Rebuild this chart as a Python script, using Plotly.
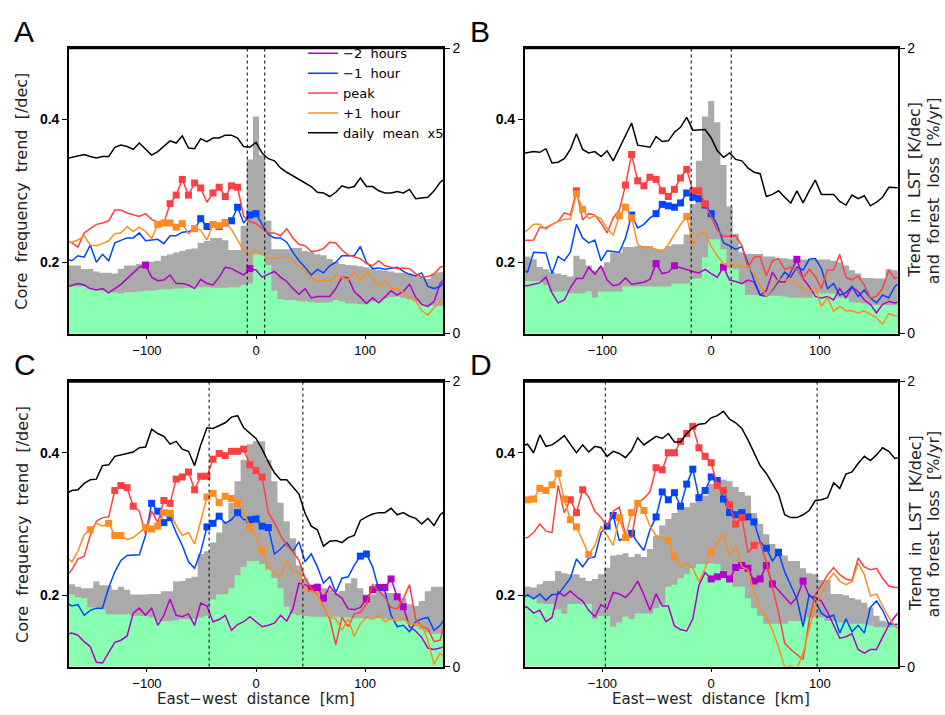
import plotly.graph_objects as go

# ---------------- data ----------------
# east-west distance grid (km), one value per 5.63 km column, k = -31 ... 31
DIST_KM = [-174.5, -168.9, -163.3, -157.6, -152.0, -146.4, -140.8, -135.1, -129.5, -123.9,
           -118.2, -112.6, -107.0, -101.3, -95.7, -90.1, -84.5, -78.8, -73.2, -67.6,
           -61.9, -56.3, -50.7, -45.0, -39.4, -33.8, -28.2, -22.5, -16.9, -11.3,
           -5.6, 0.0, 5.6, 11.3, 16.9, 22.5, 28.2, 33.8, 39.4, 45.0,
           50.7, 56.3, 61.9, 67.6, 73.2, 78.8, 84.5, 90.1, 95.7, 101.3,
           107.0, 112.6, 118.2, 123.9, 129.5, 135.1, 140.8, 146.4, 152.0, 157.6,
           163.3, 168.9, 174.5]

PANELS = ["A", "B", "C", "D"]
SERIES_NAMES = ["\u22122 hours", "\u22121 hour", "peak", "+1 hour", "daily mean x5"]

# ---- panel A ----
minus2_A = [0.165, 0.168, 0.170, 0.168, 0.163, 0.161, 0.163, 0.157, 0.163, 0.169, 0.177, 0.185, 0.193, 0.196, 0.179, 0.174, 0.175, 0.182, 0.170, 0.170, 0.168,
            0.163, 0.176, 0.170, 0.168, 0.179, 0.193, 0.191, 0.187, 0.182, 0.191, 0.189, 0.179, 0.183, 0.187, 0.179, 0.173, 0.163, 0.155, 0.163, 0.150, 0.152,
            0.152, 0.152, 0.163, 0.179, 0.178, 0.159, 0.151, 0.142, 0.150, 0.143, 0.151, 0.160, 0.154, 0.159, 0.169, 0.151, 0.141, 0.138, 0.145, 0.170, 0.180]
minus1_A = [0.205, 0.202, 0.209, 0.207, 0.224, 0.200, 0.211, 0.202, 0.227, 0.231, 0.234, 0.234, 0.241, 0.230, 0.231, 0.232, 0.226, 0.237, 0.237, 0.242, 0.243,
            0.246, 0.261, 0.250, 0.255, 0.250, 0.255, 0.258, 0.277, 0.255, 0.266, 0.268, 0.253, 0.239, 0.234, 0.234, 0.228, 0.214, 0.202, 0.193, 0.182, 0.190,
            0.185, 0.195, 0.200, 0.209, 0.209, 0.209, 0.222, 0.200, 0.191, 0.192, 0.190, 0.191, 0.193, 0.187, 0.183, 0.181, 0.185, 0.166, 0.163, 0.166, 0.175]
peak_A = [0.230, 0.227, 0.221, 0.241, 0.247, 0.253, 0.255, 0.258, 0.273, 0.273, 0.269, 0.267, 0.264, 0.268, 0.260, 0.256, 0.255, 0.282, 0.294, 0.316, 0.294,
          0.311, 0.304, 0.284, 0.297, 0.305, 0.292, 0.307, 0.305, 0.264, 0.257, 0.254, 0.248, 0.241, 0.241, 0.237, 0.247, 0.234, 0.225, 0.223, 0.215, 0.216,
          0.219, 0.228, 0.227, 0.217, 0.210, 0.208, 0.205, 0.198, 0.195, 0.202, 0.195, 0.193, 0.191, 0.192, 0.191, 0.184, 0.179, 0.180, 0.183, 0.193, 0.196]
plus1_A = [0.228, 0.228, 0.231, 0.237, 0.224, 0.223, 0.226, 0.230, 0.240, 0.241, 0.250, 0.243, 0.249, 0.243, 0.233, 0.253, 0.255, 0.255, 0.249, 0.254, 0.240,
           0.247, 0.245, 0.231, 0.253, 0.251, 0.255, 0.246, 0.231, 0.216, 0.213, 0.216, 0.211, 0.205, 0.205, 0.207, 0.207, 0.202, 0.195, 0.189, 0.179, 0.173,
           0.175, 0.173, 0.181, 0.179, 0.175, 0.186, 0.175, 0.186, 0.177, 0.167, 0.174, 0.163, 0.163, 0.157, 0.152, 0.146, 0.132, 0.126, 0.136, 0.145, 0.148]
daily_A = [0.345, 0.347, 0.349, 0.351, 0.348, 0.346, 0.348, 0.348, 0.361, 0.364, 0.362, 0.358, 0.367, 0.359, 0.350, 0.355, 0.362, 0.370, 0.367, 0.377, 0.360,
           0.359, 0.373, 0.369, 0.374, 0.374, 0.378, 0.378, 0.374, 0.362, 0.361, 0.368, 0.353, 0.345, 0.342, 0.332, 0.326, 0.321, 0.316, 0.310, 0.306, 0.298,
           0.297, 0.292, 0.298, 0.307, 0.304, 0.306, 0.318, 0.306, 0.306, 0.300, 0.297, 0.297, 0.299, 0.297, 0.302, 0.289, 0.290, 0.291, 0.300, 0.312, 0.318]
lst_A = [0.48, 0.476, 0.476, 0.453, 0.453, 0.435, 0.426, 0.426, 0.42, 0.453, 0.476, 0.476, 0.487, 0.499, 0.503, 0.51, 0.545, 0.556, 0.567, 0.579, 0.59,
         0.595, 0.636, 0.648, 0.67, 0.67, 0.654, 0.586, 0.586, 0.755, 1.22, 1.52, 1.25, 0.79, 0.59, 0.59, 0.59, 0.60, 0.60, 0.579, 0.572, 0.556,
         0.549, 0.522, 0.503, 0.487, 0.48, 0.476, 0.471, 0.465, 0.453, 0.446, 0.442, 0.435, 0.426, 0.426, 0.42, 0.407, 0.396, 0.384, 0.42, 0.43, 0.43]
loss_A = [0.33, 0.33, 0.33, 0.335, 0.31, 0.305, 0.30, 0.29, 0.285, 0.28, 0.29, 0.29, 0.295, 0.30, 0.30, 0.305, 0.31, 0.31, 0.315, 0.315, 0.32,
          0.325, 0.325, 0.325, 0.32, 0.32, 0.32, 0.325, 0.325, 0.34, 0.35, 0.556, 0.55, 0.48, 0.30, 0.24, 0.235, 0.235, 0.23, 0.225, 0.22, 0.215,
          0.215, 0.22, 0.235, 0.225, 0.21, 0.21, 0.205, 0.205, 0.225, 0.235, 0.245, 0.255, 0.26, 0.25, 0.24, 0.225, 0.21, 0.2, 0.195, 0.195, 0.195]
sig_minus2_A = [-18, -1]
sig_minus1_A = [-9, -8, -6, -5, -4, -3, -1, 0]
sig_peak_A = [-14, -13, -12, -11, -10, -9, -7, -6, -5, -4, -3]
sig_plus1_A = [-16, -15, -14, -13, -12, -10, -7, -6, -5]

# ---- panel B ----
minus2_B = [0.167, 0.167, 0.169, 0.171, 0.179, 0.157, 0.143, 0.147, 0.164, 0.177, 0.177, 0.193, 0.183, 0.195, 0.175, 0.167, 0.169, 0.178, 0.169, 0.170, 0.172,
            0.176, 0.198, 0.184, 0.186, 0.195, 0.192, 0.189, 0.187, 0.185, 0.190, 0.184, 0.179, 0.193, 0.175, 0.173, 0.170, 0.175, 0.172, 0.154, 0.160, 0.186,
            0.173, 0.172, 0.186, 0.204, 0.177, 0.166, 0.152, 0.150, 0.152, 0.147, 0.163, 0.150, 0.165, 0.159, 0.147, 0.141, 0.129, 0.141, 0.145, 0.143, 0.145]
minus1_B = [0.190, 0.186, 0.214, 0.214, 0.213, 0.184, 0.208, 0.202, 0.214, 0.253, 0.234, 0.227, 0.231, 0.202, 0.216, 0.215, 0.214, 0.234, 0.266, 0.248, 0.253,
            0.262, 0.268, 0.281, 0.279, 0.277, 0.283, 0.297, 0.291, 0.289, 0.280, 0.268, 0.252, 0.227, 0.223, 0.218, 0.222, 0.198, 0.175, 0.154, 0.152, 0.161,
            0.173, 0.186, 0.179, 0.193, 0.189, 0.204, 0.205, 0.191, 0.163, 0.170, 0.154, 0.157, 0.166, 0.152, 0.161, 0.150, 0.143, 0.154, 0.150, 0.166, 0.172]
peak_B = [0.230, 0.230, 0.231, 0.249, 0.248, 0.253, 0.257, 0.269, 0.266, 0.300, 0.259, 0.268, 0.266, 0.255, 0.241, 0.262, 0.273, 0.308, 0.351, 0.314, 0.307,
          0.319, 0.316, 0.300, 0.292, 0.302, 0.318, 0.330, 0.300, 0.300, 0.282, 0.262, 0.245, 0.236, 0.236, 0.237, 0.223, 0.193, 0.207, 0.208, 0.181, 0.202,
          0.205, 0.190, 0.193, 0.190, 0.177, 0.190, 0.180, 0.163, 0.189, 0.189, 0.211, 0.179, 0.175, 0.181, 0.168, 0.150, 0.152, 0.163, 0.189, 0.177, 0.180]
plus1_B = [0.240, 0.245, 0.253, 0.253, 0.246, 0.253, 0.257, 0.260, 0.260, 0.296, 0.274, 0.261, 0.265, 0.261, 0.247, 0.238, 0.265, 0.277, 0.262, 0.225, 0.220,
           0.220, 0.218, 0.214, 0.225, 0.239, 0.253, 0.264, 0.225, 0.239, 0.242, 0.222, 0.209, 0.198, 0.195, 0.198, 0.193, 0.195, 0.184, 0.168, 0.152, 0.163,
           0.177, 0.175, 0.175, 0.170, 0.163, 0.159, 0.164, 0.138, 0.150, 0.131, 0.138, 0.132, 0.132, 0.129, 0.132, 0.127, 0.122, 0.113, 0.128, 0.125, 0.125]
daily_B = [0.352, 0.353, 0.355, 0.354, 0.359, 0.339, 0.340, 0.345, 0.358, 0.380, 0.358, 0.353, 0.355, 0.348, 0.356, 0.342, 0.360, 0.378, 0.395, 0.364, 0.362,
           0.361, 0.376, 0.369, 0.370, 0.382, 0.389, 0.403, 0.385, 0.385, 0.386, 0.374, 0.356, 0.347, 0.353, 0.344, 0.342, 0.332, 0.326, 0.324, 0.292, 0.295,
           0.300, 0.291, 0.283, 0.300, 0.283, 0.300, 0.315, 0.295, 0.295, 0.295, 0.285, 0.280, 0.294, 0.289, 0.293, 0.279, 0.284, 0.291, 0.305, 0.304, 0.304]
lst_B = [0.54, 0.54, 0.52, 0.466, 0.45, 0.43, 0.42, 0.41, 0.40, 0.545, 0.52, 0.477, 0.443, 0.466, 0.50, 0.568, 0.568, 0.607, 0.607, 0.614, 0.614,
         0.614, 0.59, 0.59, 0.614, 0.626, 0.626, 0.694, 0.91, 1.21, 1.52, 1.63, 1.48, 1.18, 0.89, 0.70, 0.57, 0.557, 0.557, 0.557, 0.54, 0.54,
         0.527, 0.527, 0.52, 0.518, 0.518, 0.518, 0.518, 0.518, 0.518, 0.51, 0.50, 0.477, 0.443, 0.42, 0.39, 0.39, 0.386, 0.386, 0.45, 0.443, 0.443]
loss_B = [0.368, 0.368, 0.368, 0.368, 0.34, 0.295, 0.295, 0.295, 0.283, 0.283, 0.283, 0.295, 0.253, 0.295, 0.295, 0.295, 0.295, 0.33, 0.33, 0.33, 0.33,
          0.33, 0.33, 0.33, 0.33, 0.35, 0.35, 0.35, 0.386, 0.386, 0.534, 0.66, 0.66, 0.59, 0.46, 0.45, 0.35, 0.27, 0.27, 0.27, 0.265, 0.265,
          0.265, 0.26, 0.25, 0.25, 0.25, 0.25, 0.28, 0.28, 0.28, 0.28, 0.25, 0.25, 0.22, 0.215, 0.21, 0.20, 0.20, 0.20, 0.20, 0.20, 0.20]
sig_minus2_B = [-9, -6, 2, 14]
sig_minus1_B = [-13, -9, -8, -7, -6, -5, -4, -3, -2, -1, 0]
sig_peak_B = [-22, -14, -13, -12, -11, -10, -9, -8, -7, -6, -5, -4, -3, -2, -1]
sig_plus1_B = [-22, -21, -15, -14, -13, -4]

# ---- panel C ----
minus2_C = [0.145, 0.147, 0.144, 0.135, 0.128, 0.106, 0.105, 0.119, 0.134, 0.137, 0.143, 0.175, 0.182, 0.172, 0.182, 0.158, 0.172, 0.195, 0.172, 0.170, 0.174,
            0.158, 0.189, 0.185, 0.163, 0.166, 0.172, 0.151, 0.159, 0.163, 0.170, 0.163, 0.156, 0.158, 0.161, 0.172, 0.164, 0.181, 0.217, 0.215, 0.210, 0.211,
            0.196, 0.213, 0.202, 0.196, 0.181, 0.180, 0.183, 0.195, 0.208, 0.211, 0.211, 0.223, 0.198, 0.184, 0.156, 0.150, 0.141, 0.126, 0.124, 0.126, 0.130]
minus1_C = [0.190, 0.185, 0.187, 0.172, 0.179, 0.182, 0.182, 0.211, 0.233, 0.249, 0.256, 0.257, 0.257, 0.284, 0.329, 0.318, 0.302, 0.309, 0.288, 0.270, 0.247,
            0.238, 0.261, 0.296, 0.301, 0.311, 0.301, 0.306, 0.316, 0.306, 0.306, 0.307, 0.297, 0.295, 0.258, 0.265, 0.274, 0.262, 0.275, 0.247, 0.258, 0.240,
            0.217, 0.226, 0.204, 0.224, 0.226, 0.242, 0.255, 0.258, 0.240, 0.208, 0.206, 0.172, 0.156, 0.158, 0.149, 0.163, 0.167, 0.169, 0.151, 0.158, 0.170]
peak_C = [0.225, 0.236, 0.251, 0.255, 0.284, 0.304, 0.309, 0.310, 0.347, 0.354, 0.351, 0.325, 0.318, 0.286, 0.318, 0.302, 0.333, 0.329, 0.363, 0.366, 0.373,
          0.348, 0.367, 0.367, 0.391, 0.399, 0.396, 0.402, 0.402, 0.405, 0.383, 0.375, 0.366, 0.316, 0.302, 0.284, 0.270, 0.261, 0.249, 0.224, 0.210, 0.201,
          0.183, 0.167, 0.131, 0.169, 0.156, 0.174, 0.176, 0.188, 0.215, 0.206, 0.197, 0.183, 0.181, 0.195, 0.215, 0.167, 0.156, 0.153, 0.135, 0.137, 0.170]
plus1_C = [0.255, 0.247, 0.262, 0.285, 0.292, 0.301, 0.297, 0.301, 0.284, 0.284, 0.278, 0.281, 0.288, 0.295, 0.293, 0.297, 0.316, 0.315, 0.298, 0.284, 0.288,
           0.272, 0.304, 0.338, 0.343, 0.330, 0.339, 0.336, 0.329, 0.318, 0.296, 0.281, 0.263, 0.240, 0.231, 0.226, 0.249, 0.233, 0.233, 0.208, 0.206, 0.201,
           0.183, 0.169, 0.167, 0.151, 0.167, 0.142, 0.160, 0.169, 0.167, 0.172, 0.163, 0.167, 0.164, 0.169, 0.159, 0.160, 0.158, 0.137, 0.103, 0.119, 0.110]
daily_C = [0.342, 0.347, 0.348, 0.357, 0.362, 0.363, 0.382, 0.383, 0.395, 0.397, 0.400, 0.401, 0.407, 0.408, 0.433, 0.427, 0.423, 0.412, 0.416, 0.405, 0.402,
           0.382, 0.411, 0.435, 0.434, 0.438, 0.442, 0.450, 0.452, 0.435, 0.427, 0.420, 0.405, 0.387, 0.372, 0.362, 0.362, 0.352, 0.342, 0.315, 0.297, 0.292,
           0.269, 0.276, 0.277, 0.274, 0.281, 0.284, 0.305, 0.310, 0.314, 0.316, 0.316, 0.322, 0.313, 0.316, 0.311, 0.308, 0.300, 0.308, 0.298, 0.313, 0.320]
lst_C = [0.58, 0.578, 0.56, 0.55, 0.55, 0.597, 0.57, 0.57, 0.54, 0.56, 0.54, 0.505, 0.505, 0.505, 0.51, 0.51, 0.528, 0.528, 0.597, 0.60, 0.62,
         0.63, 0.79, 0.81, 0.87, 0.94, 1.02, 1.15, 1.30, 1.45, 1.56, 1.58, 1.58, 1.45, 1.30, 1.15, 1.02, 0.90, 0.71, 0.62, 0.56, 0.585,
         0.55, 0.54, 0.516, 0.53, 0.585, 0.62, 0.55, 0.505, 0.505, 0.53, 0.52, 0.516, 0.48, 0.48, 0.437, 0.425, 0.46, 0.528, 0.56, 0.56, 0.56]
loss_C = [0.50, 0.505, 0.487, 0.48, 0.414, 0.414, 0.40, 0.368, 0.368, 0.368, 0.368, 0.357, 0.357, 0.357, 0.345, 0.32, 0.32, 0.32, 0.325, 0.334, 0.334,
          0.334, 0.345, 0.357, 0.47, 0.505, 0.51, 0.55, 0.64, 0.70, 0.74, 0.74, 0.72, 0.68, 0.62, 0.55, 0.42, 0.37, 0.36, 0.355, 0.35, 0.35,
          0.35, 0.35, 0.35, 0.345, 0.345, 0.34, 0.34, 0.34, 0.34, 0.34, 0.335, 0.33, 0.33, 0.32, 0.30, 0.28, 0.26, 0.24, 0.23, 0.23, 0.23]
sig_minus2_C = [9, 10, 11, 18, 19, 20, 21, 22, 23, 24]
sig_minus1_C = [-17, -16, -15, -14, -8, -7, -6, -3, -1, 0, 1, 2, 17, 18]
sig_peak_C = [-23, -22, -21, -20, -15, -14, -13, -12, -11, -10, -9, -8, -7, -6, -5, -4, -3, -2, -1, 0, 1]
sig_plus1_C = [-27, -24, -23, -22, -18, -17, -16, -15, -14, -8, -7, -6, -5, -4, -3, -1, 1]

# ---- panel D ----
minus2_D = [0.185, 0.183, 0.175, 0.179, 0.163, 0.169, 0.205, 0.199, 0.206, 0.198, 0.192, 0.179, 0.170, 0.187, 0.181, 0.204, 0.202, 0.197, 0.206, 0.220, 0.201,
            0.179, 0.202, 0.185, 0.185, 0.157, 0.152, 0.150, 0.167, 0.214, 0.232, 0.223, 0.226, 0.229, 0.223, 0.239, 0.242, 0.238, 0.220, 0.223, 0.242, 0.216,
            0.207, 0.197, 0.188, 0.197, 0.220, 0.199, 0.197, 0.192, 0.176, 0.158, 0.140, 0.142, 0.146, 0.124, 0.119, 0.124, 0.124, 0.141, 0.158, 0.170, 0.180]
minus1_D = [0.195, 0.201, 0.195, 0.202, 0.193, 0.201, 0.201, 0.213, 0.224, 0.251, 0.240, 0.252, 0.254, 0.288, 0.297, 0.312, 0.277, 0.281, 0.287, 0.274, 0.263,
            0.292, 0.310, 0.345, 0.334, 0.344, 0.325, 0.356, 0.377, 0.337, 0.347, 0.366, 0.361, 0.335, 0.316, 0.313, 0.316, 0.310, 0.303, 0.275, 0.266, 0.248,
            0.260, 0.233, 0.213, 0.195, 0.156, 0.201, 0.192, 0.175, 0.169, 0.172, 0.147, 0.167, 0.149, 0.158, 0.147, 0.183, 0.192, 0.179, 0.160, 0.159, 0.160]
peak_D = [0.280, 0.281, 0.288, 0.300, 0.290, 0.288, 0.354, 0.316, 0.334, 0.316, 0.348, 0.338, 0.318, 0.309, 0.297, 0.318, 0.324, 0.284, 0.281, 0.329, 0.336,
          0.345, 0.379, 0.376, 0.400, 0.400, 0.416, 0.427, 0.437, 0.407, 0.395, 0.386, 0.354, 0.347, 0.327, 0.300, 0.309, 0.260, 0.270, 0.274, 0.247, 0.211,
          0.176, 0.133, 0.124, 0.117, 0.110, 0.165, 0.201, 0.214, 0.229, 0.239, 0.229, 0.223, 0.221, 0.252, 0.240, 0.236, 0.238, 0.224, 0.213, 0.211, 0.211]
plus1_D = [0.330, 0.334, 0.335, 0.350, 0.347, 0.355, 0.371, 0.335, 0.306, 0.296, 0.277, 0.257, 0.270, 0.297, 0.284, 0.270, 0.309, 0.281, 0.316, 0.329, 0.319,
           0.297, 0.284, 0.280, 0.277, 0.254, 0.240, 0.245, 0.238, 0.219, 0.238, 0.261, 0.274, 0.286, 0.255, 0.269, 0.240, 0.236, 0.204, 0.183, 0.169, 0.151,
           0.128, 0.099, 0.101, 0.097, 0.119, 0.151, 0.185, 0.202, 0.220, 0.231, 0.220, 0.215, 0.219, 0.245, 0.229, 0.199, 0.202, 0.185, 0.169, 0.157, 0.150]
daily_D = [0.410, 0.412, 0.400, 0.425, 0.409, 0.411, 0.417, 0.424, 0.412, 0.400, 0.411, 0.401, 0.409, 0.407, 0.395, 0.402, 0.399, 0.393, 0.403, 0.421, 0.411,
           0.417, 0.423, 0.420, 0.427, 0.415, 0.415, 0.427, 0.435, 0.440, 0.441, 0.449, 0.452, 0.458, 0.447, 0.442, 0.434, 0.418, 0.400, 0.382, 0.371, 0.357,
           0.342, 0.313, 0.309, 0.309, 0.313, 0.319, 0.333, 0.334, 0.337, 0.358, 0.350, 0.370, 0.373, 0.385, 0.395, 0.389, 0.397, 0.407, 0.402, 0.392, 0.394]
lst_D = [0.56, 0.562, 0.555, 0.578, 0.60, 0.60, 0.67, 0.654, 0.647, 0.647, 0.624, 0.60, 0.615, 0.647, 0.693, 0.78, 0.784, 0.795, 0.768, 0.79, 0.768,
         0.825, 0.917, 0.99, 1.035, 1.077, 1.11, 1.12, 1.15, 1.195, 1.20, 1.28, 1.29, 1.31, 1.30, 1.26, 1.225, 1.20, 1.077, 1.00, 0.928, 0.86,
         0.83, 0.78, 0.74, 0.74, 0.69, 0.654, 0.647, 0.608, 0.608, 0.51, 0.51, 0.50, 0.482, 0.47, 0.448, 0.414, 0.357, 0.322, 0.31, 0.288, 0.29]
loss_D = [0.485, 0.485, 0.485, 0.445, 0.44, 0.44, 0.40, 0.37, 0.44, 0.44, 0.44, 0.44, 0.335, 0.355, 0.355, 0.28, 0.31, 0.35, 0.334, 0.373, 0.373,
          0.373, 0.41, 0.437, 0.56, 0.574, 0.62, 0.647, 0.69, 0.72, 0.72, 0.725, 0.72, 0.64, 0.61, 0.56, 0.56, 0.48, 0.41, 0.357, 0.30, 0.30,
          0.30, 0.30, 0.32, 0.32, 0.32, 0.345, 0.345, 0.345, 0.32, 0.32, 0.31, 0.31, 0.30, 0.30, 0.30, 0.29, 0.277, 0.277, 0.277, 0.277, 0.277]
sig_minus2_D = [0, 1, 2, 3, 4, 5, 6, 7, 8, 9, 10, 15]
sig_minus1_D = [-17, -16, -13, -9, -8, -7, -6, -5, -4, -3, -2, -1, 0, 1, 2, 3, 4, 5, 6, 7, 9, 11]
sig_peak_D = [-23, -22, -21, -9, -8, -7, -6, -5, -4, -3, -2, -1, 0, 1, 2, 3, 4, 5, 7]
sig_plus1_D = [-30, -29, -28, -27, -26, -25, -24, -23, -22, -20, -15, -14, -13, -12, -11, -7, -6, 0]

# boundaries of the analysed box (dotted lines), km
BOX_EDGE_KM = {"A": 8.0, "B": 18.4, "C": 43.0, "D": 97.4}

DATA = {
    "A": dict(lines=[minus2_A, minus1_A, peak_A, plus1_A, daily_A], lst=lst_A, loss=loss_A,
              sig=[sig_minus2_A, sig_minus1_A, sig_peak_A, sig_plus1_A, []]),
    "B": dict(lines=[minus2_B, minus1_B, peak_B, plus1_B, daily_B], lst=lst_B, loss=loss_B,
              sig=[sig_minus2_B, sig_minus1_B, sig_peak_B, sig_plus1_B, []]),
    "C": dict(lines=[minus2_C, minus1_C, peak_C, plus1_C, daily_C], lst=lst_C, loss=loss_C,
              sig=[sig_minus2_C, sig_minus1_C, sig_peak_C, sig_plus1_C, []]),
    "D": dict(lines=[minus2_D, minus1_D, peak_D, plus1_D, daily_D], lst=lst_D, loss=loss_D,
              sig=[sig_minus2_D, sig_minus1_D, sig_peak_D, sig_plus1_D, []]),
}

# ---------------- styling ----------------
W, H = 945, 715
LINE_COLORS = ["#B400C8", "#0046FF", "#FF4040", "#FF8C1E", "#000000"]
GRAY = "#AAAAAA"
GREEN = "#88FFB0"
FONT = "Liberation Sans"
TFONT = "DejaVu Sans"
SP = "\u00a0 "  # wide word gap as in the original lettering

# panel boxes in pixels: (left, right, top, bottom)
BOXES = {"A": (69, 443, 41, 333), "B": (524.7, 897.7, 41, 333),
         "C": (69, 443, 382, 673.7), "D": (524.7, 897.7, 382, 673.7)}


def px(x):
    return x / W


def py(y):
    return 1 - y / H


def idx(k):
    return k + 31


fig = go.Figure()
layout = {}
shapes = []
annotations = []

for i, p in enumerate(PANELS):
    n = i + 1
    xa = "x" if n == 1 else f"x{n}"
    yr = "y" if n == 1 else f"y{n}"
    yl = f"y{n + 4}"
    d = DATA[p]

    # step areas on the right axis
    fig.add_trace(go.Scatter(x=DIST_KM, y=d["lst"], xaxis=xa, yaxis=yr, mode="lines",
                             line=dict(width=0, shape="hvh"), fill="tozeroy", fillcolor=GRAY,
                             showlegend=False, hoverinfo="skip"))
    fig.add_trace(go.Scatter(x=DIST_KM, y=d["loss"], xaxis=xa, yaxis=yr, mode="lines",
                             line=dict(width=0, shape="hvh"), fill="tozeroy", fillcolor=GREEN,
                             showlegend=False, hoverinfo="skip"))

    for j, (vals, sig) in enumerate(zip(d["lines"], d["sig"])):
        fig.add_trace(go.Scatter(x=DIST_KM, y=vals, xaxis=xa, yaxis=yl, mode="lines",
                                 line=dict(color=LINE_COLORS[j], width=1.5),
                                 name=SERIES_NAMES[j].replace(" ", SP), showlegend=(n == 1)))
        if sig:
            fig.add_trace(go.Scatter(x=[DIST_KM[idx(k)] for k in sig],
                                     y=[vals[idx(k)] for k in sig],
                                     xaxis=xa, yaxis=yl, mode="markers",
                                     marker=dict(symbol="square", size=7, color=LINE_COLORS[j]),
                                     showlegend=False, cliponaxis=False))

    l, r, t, b = BOXES[p]
    xdom = [px(l), px(r)]
    ydom = [py(b), py(t)]
    axline = dict(showline=True, linecolor="black", linewidth=1.6, showgrid=False, zeroline=False,
                  ticks="outside", ticklen=5, tickwidth=1.2, tickcolor="black")
    layout["xaxis" if n == 1 else f"xaxis{n}"] = dict(
        domain=xdom, anchor=yr, range=[-171.5, 171.5], tickvals=[-100, 0, 100],
        ticktext=["\u2212100", "0", "100"], mirror=True,
        tickfont=dict(family=FONT, size=13, color="black"), **dict(axline, ticklen=4))
    layout["yaxis" if n == 1 else f"yaxis{n}"] = dict(
        domain=ydom, anchor=xa, side="right", range=[0, 2], tickvals=[0, 2], ticktext=["0", "2"],
        tickfont=dict(family=FONT, size=14, color="black"), **axline)
    layout[f"yaxis{n + 4}"] = dict(
        overlaying=yr, anchor=xa, side="left", range=[0.1, 0.5], tickvals=[0.2, 0.4],
        ticktext=["0.2", "0.4"], tickfont=dict(family=FONT, size=14, color="black", weight="bold"),
        **axline)

    # heavier top frame, as in the original
    shapes.append(dict(type="line", xref=f"{xa} domain", yref=f"{yr} domain", x0=0, x1=1, y0=1, y1=1,
                       line=dict(color="black", width=2.4)))

    # dotted box edges
    for e in (-BOX_EDGE_KM[p], BOX_EDGE_KM[p]):
        shapes.append(dict(type="line", xref=xa, yref=f"{yr} domain", x0=e, x1=e, y0=0, y1=1,
                           line=dict(color="black", width=1, dash="dot")))

    # panel letter
    annotations.append(dict(text=p, xref="paper", yref="paper", x=px(l - 57), y=py(t - 17),
                            xanchor="left", yanchor="middle", showarrow=False,
                            font=dict(family=FONT, size=30, color="black")))

    cy = (t + b) / 2
    if p in ("A", "C"):
        annotations.append(dict(text=SP.join(["Core", "frequency", "trend", "[/dec]"]),
                                xref="paper", yref="paper",
                                x=px(22), y=py(cy + 1), textangle=-90, showarrow=False,
                                xanchor="center", yanchor="middle",
                                font=dict(family=TFONT, size=16, color="#222222")))
    else:
        annotations.append(dict(text=SP.join(["Trend", "in", "LST", "[K/dec]"]),
                                xref="paper", yref="paper", x=px(915), y=py(cy - 1), textangle=-90,
                                showarrow=False, xanchor="center", yanchor="middle",
                                font=dict(family=TFONT, size=16, color="#222222")))
        annotations.append(dict(text=SP.join(["and", "forest", "loss", "[%/yr]"]),
                                xref="paper", yref="paper", x=px(945), y=py(cy), textangle=-90,
                                showarrow=False, xanchor="right", yanchor="middle",
                                font=dict(family=TFONT, size=16, color="#222222")))
    if p in ("C", "D"):
        annotations.append(dict(text=SP.join(["East\u2212west", "distance", "[km]"]),
                                xref="paper", yref="paper",
                                x=px((l + r) / 2), y=py(697), showarrow=False, borderpad=0,
                                xanchor="center", yanchor="top",
                                font=dict(family=TFONT, size=15, color="#222222")))

fig.update_layout(
    width=W, height=H, margin=dict(l=0, r=0, t=0, b=0),
    paper_bgcolor="white", plot_bgcolor="white",
    shapes=shapes, annotations=annotations,
    legend=dict(x=px(303), y=py(31), xanchor="left", yanchor="top", bgcolor="rgba(0,0,0,0)",
                font=dict(family=TFONT, size=13, color="black"), itemwidth=30),
    **layout,
)

# the page itself should not add an offset around the 945x715 figure
fig.write_html("out.html", config={"displayModeBar": False},
               post_script="document.body.style.margin='0';document.body.style.padding='0';")
